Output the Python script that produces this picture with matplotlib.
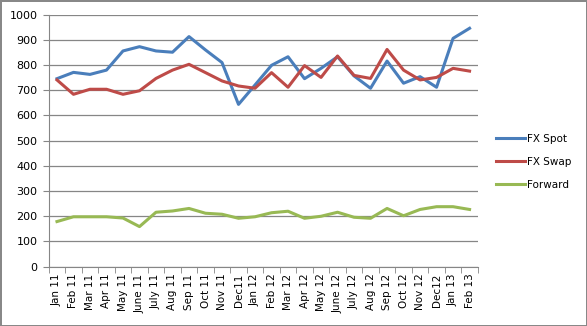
import matplotlib.pyplot as plt
from matplotlib.ticker import FixedLocator, MultipleLocator

# 월별 카테고리
months = ['Jan 11', 'Feb 11', 'Mar 11', 'Apr 11', 'May 11', 'June 11', 'July 11',
          'Aug 11', 'Sep 11', 'Oct 11', 'Nov 11', 'Dec11', 'Jan 12', 'Feb 12',
          'Mar 12', 'Apr 12', 'May 12', 'June 12', 'July 12', 'Aug 12', 'Sep 12',
          'Oct 12', 'Nov 12', 'Dec12', 'Jan 13', 'Feb 13']

fx_spot = [746, 771, 763, 780, 856, 873, 856, 851, 913, 860, 810, 644, 721,
           799, 833, 746, 787, 833, 757, 708, 816, 728, 754, 712, 906, 946]
fx_swap = [741, 684, 704, 704, 684, 698, 747, 780, 803, 770, 737, 717, 708,
           770, 712, 798, 751, 836, 759, 747, 862, 780, 741, 751, 787, 776]
forward = [179, 198, 198, 198, 193, 159, 216, 221, 231, 212, 208, 192, 198,
           214, 220, 192, 200, 216, 196, 192, 231, 202, 227, 238, 238, 227]

fig = plt.figure(figsize=(5.87, 3.26), dpi=100)
fig.patch.set_edgecolor('#888888')
fig.patch.set_linewidth(1.0)

ax = fig.add_axes([0.083, 0.182, 0.731, 0.773])
x = range(len(months))

ax.plot(x, fx_spot, color='#4A7EBB', lw=2.2, label='FX Spot')
ax.plot(x, fx_swap, color='#BE4B48', lw=2.2, label='FX Swap')
ax.plot(x, forward, color='#98B954', lw=2.2, label='Forward')

ax.set_xlim(-0.5, len(months) - 0.5)
ax.set_ylim(0, 1000)
ax.yaxis.set_major_locator(MultipleLocator(100))
ax.grid(axis='y', color='#868686', lw=0.9)
ax.set_axisbelow(True)

# x축: 라벨은 카테고리 중앙, 눈금은 카테고리 사이
ax.set_xticks(list(x))
ax.set_xticklabels(months, rotation=90, fontsize=7.5)
ax.tick_params(axis='x', length=0, pad=5)
ax.xaxis.set_minor_locator(FixedLocator([i - 0.5 for i in range(len(months) + 1)]))
ax.tick_params(axis='x', which='minor', length=4, color='#868686')
ax.tick_params(axis='y', labelsize=8, length=4, color='#868686', pad=4)

for s in ['top', 'right']:
    ax.spines[s].set_visible(False)
for s in ['left', 'bottom']:
    ax.spines[s].set_color('#868686')

ax.legend(loc='center left', bbox_to_anchor=(1.02, 0.415), frameon=False,
          fontsize=7.5, handlelength=2.8, handletextpad=0.2, labelspacing=1.25)

plt.savefig('out.png', dpi=100, edgecolor=fig.get_edgecolor())
